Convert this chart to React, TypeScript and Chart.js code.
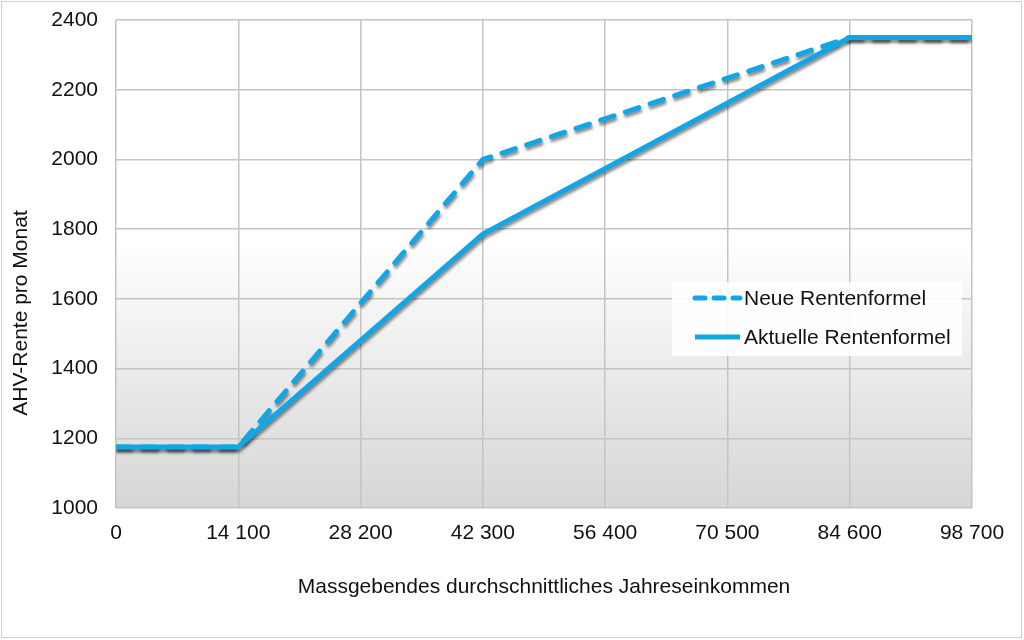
import React, { useEffect, useRef } from "react";
import { Chart, registerables } from "chart.js";

Chart.register(...registerables);

const incomes = [0, 14100, 42300, 84600, 98700];
const neueRente = [1175, 1175, 2000, 2350, 2350];
const aktuelleRente = [1175, 1175, 1786, 2350, 2350];
const xTickValues = [0, 14100, 28200, 42300, 56400, 70500, 84600, 98700];
const yTickValues = [1000, 1200, 1400, 1600, 1800, 2000, 2200, 2400];
const seriesLabels = ["Neue Rentenformel", "Aktuelle Rentenformel"];
const xTitle = "Massgebendes durchschnittliches Jahreseinkommen";
const yTitle = "AHV-Rente pro Monat";

const BLUE = "#13a6e6";
const FONT = "'Liberation Sans', Arial, sans-serif";
const DASH = [14, 12];

const fmt = (v: number) => String(Math.round(v)).replace(/\B(?=(\d{3})+(?!\d))/g, " ");

const bgPlugin = {
  id: "bg",
  beforeDraw(chart: any) {
    const { ctx, chartArea: a, width, height } = chart;
    ctx.save();
    ctx.fillStyle = "#ffffff";
    ctx.fillRect(0, 0, width, height);
    const g = ctx.createLinearGradient(0, a.top, 0, a.bottom);
    g.addColorStop(0, "#ffffff");
    g.addColorStop(0.45, "#ffffff");
    g.addColorStop(1, "#d6d6d6");
    ctx.fillStyle = g;
    ctx.fillRect(a.left, a.top, a.right - a.left, a.bottom - a.top);
    ctx.restore();
  },
  beforeDatasetsDraw(chart: any) {
    const ctx = chart.ctx;
    ctx.save();
    ctx.shadowColor = "rgba(0,0,0,0.45)";
    ctx.shadowOffsetX = 1;
    ctx.shadowOffsetY = 3;
    ctx.shadowBlur = 3;
  },
  afterDatasetsDraw(chart: any) {
    chart.ctx.restore();
  },
  afterDraw(chart: any) {
    const { ctx, width, height } = chart;
    const bx = 672, by = 282, bw = 290, bh = 74;
    ctx.save();
    ctx.fillStyle = "rgba(255,255,255,0.88)";
    ctx.fillRect(bx, by, bw, bh);
    const rows = [
      { y: 298, dash: true, text: seriesLabels[0] },
      { y: 337, dash: false, text: seriesLabels[1] },
    ];
    rows.forEach((r) => {
      ctx.beginPath();
      ctx.strokeStyle = BLUE;
      ctx.lineWidth = 5;
      ctx.lineCap = r.dash ? "round" : "butt";
      ctx.setLineDash(r.dash ? [10, 9] : []);
      ctx.moveTo(695, r.y);
      ctx.lineTo(740, r.y);
      ctx.stroke();
      ctx.setLineDash([]);
      ctx.fillStyle = "#111";
      ctx.font = "21px " + FONT;
      ctx.textBaseline = "middle";
      ctx.textAlign = "left";
      ctx.fillText(r.text, 744, r.y + 1);
    });
    // y-axis title
    ctx.save();
    ctx.translate(21, 313);
    ctx.rotate(-Math.PI / 2);
    ctx.fillStyle = "#111";
    ctx.font = "21px " + FONT;
    ctx.textAlign = "center";
    ctx.textBaseline = "middle";
    ctx.fillText(yTitle, 0, 0);
    ctx.restore();
    ctx.strokeStyle = "#d0d0d0";
    ctx.lineWidth = 1;
    ctx.strokeRect(1.5, 1.5, width - 4, height - 4);
    ctx.restore();
  },
};

export default function App() {
  const ref = useRef<HTMLCanvasElement>(null);
  useEffect(() => {
    if (!ref.current) return;
    const chart = new Chart(ref.current, {
      type: "line",
      data: {
        datasets: [
          {
            label: seriesLabels[0],
            data: incomes.map((x, i) => ({ x, y: neueRente[i] })),
            borderColor: BLUE,
            borderWidth: 5,
            borderDash: DASH,
            borderCapStyle: "round",
            pointRadius: 0,
            fill: false,
            tension: 0,
            order: 1,
          },
          {
            label: seriesLabels[1],
            data: incomes.map((x, i) => ({ x, y: aktuelleRente[i] })),
            borderColor: BLUE,
            borderWidth: 5,
            pointRadius: 0,
            fill: false,
            tension: 0,
            order: 0,
          },
        ],
      },
      options: {
        responsive: false,
        animation: false,
        layout: { padding: { top: 20, right: 52, left: 0, bottom: 0 } },
        plugins: { legend: { display: false }, tooltip: { enabled: false } },
        scales: {
          x: {
            type: "linear",
            min: 0,
            max: 98700,
            afterBuildTicks: (s: any) => {
              s.ticks = xTickValues.map((v) => ({ value: v }));
            },
            afterFit: (s: any) => {
              s.height = 132;
            },
            ticks: {
              callback: (v: any) => fmt(Number(v)),
              font: { family: FONT, size: 21 },
              color: "#111",
              padding: 13,
              maxRotation: 0,
              autoSkip: false,
            },
            grid: { color: "#c4c4c4", lineWidth: 1.5, drawTicks: false },
            border: { display: false },
            title: {
              display: true,
              text: xTitle,
              font: { family: FONT, size: 21 },
              color: "#111",
              padding: { top: 0, bottom: 40 },
            },
          },
          y: {
            type: "linear",
            min: 1000,
            max: 2400,
            afterBuildTicks: (s: any) => {
              s.ticks = yTickValues.map((v) => ({ value: v }));
            },
            afterFit: (s: any) => {
              s.width = 116;
              s.paddingTop = 0;
              s.paddingBottom = 0;
            },
            ticks: {
              callback: (v: any) => String(v),
              font: { family: FONT, size: 21 },
              color: "#111",
              padding: 18,
            },
            grid: { color: "#c4c4c4", lineWidth: 1.5, drawTicks: false },
            border: { display: false },
            title: { display: false },
          },
        },
      },
      plugins: [bgPlugin],
    } as any);
    return () => chart.destroy();
  }, []);
  return (
    <div style={{ position: "absolute", left: 0, top: 0, width: 1024, height: 640 }}>
      <canvas ref={ref} width={1024} height={640} />
    </div>
  );
}
